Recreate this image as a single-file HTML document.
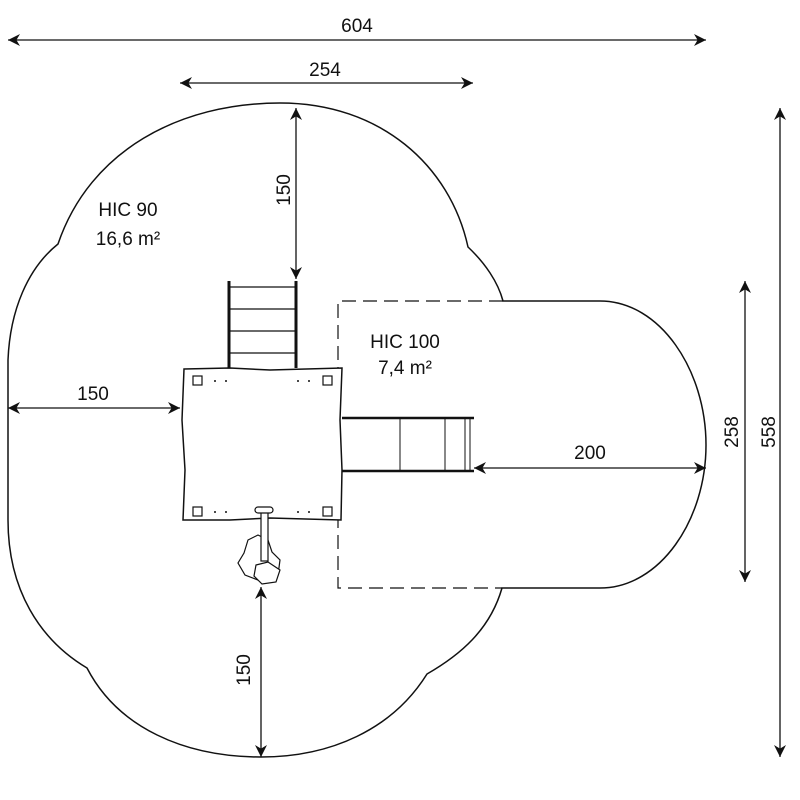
<!DOCTYPE html>
<html><head><style>body{margin:0;background:#fff}svg{display:block}text{font-family:"Liberation Sans",sans-serif;font-size:19px;fill:#111}</style></head>
<body>
<svg width="800" height="800" viewBox="0 0 800 800" xmlns="http://www.w3.org/2000/svg">
<defs>
<marker id="a" viewBox="0 0 10 10" refX="10" refY="5" markerWidth="12" markerHeight="12" markerUnits="userSpaceOnUse" orient="auto-start-reverse"><path d="M0,0 L10,5 L0,10 L3,5 Z" fill="#111"/></marker>
</defs>
<g fill="none" stroke="#111" stroke-width="1.5">
<path d="M58,244 C90,150 180,103 280,103 C380,103 450,165 468,247 C485,263 498,282 503,301 L600,301 C660,301 706,370 706,445 C706,520 660,588 600,588 L502,588 C490,630 460,655 427,674 C392,730 330,757 261,757 C185,757 118,728 87,668 C40,640 8,590 8,520 L8,360 C10,310 28,268 58,244 Z"/>
<path d="M503,301 L338,301 L338,588 L502,588" stroke-dasharray="14,7" stroke-width="1.2"/>
</g>
<g stroke="#111" fill="none">
<line x1="229" y1="281" x2="229" y2="368" stroke-width="3"/>
<line x1="296" y1="281" x2="296" y2="368" stroke-width="3"/>
<g stroke-width="1.3"><line x1="229" y1="287" x2="296" y2="287"/><line x1="229" y1="309" x2="296" y2="309"/><line x1="229" y1="331" x2="296" y2="331"/><line x1="229" y1="353" x2="296" y2="353"/></g>
<path d="M184,369 L230,368 L270,370 L342,368 L340,420 L342,470 L341,520 L270,518 L230,520 L183,520 L185,470 L182,420 Z" fill="#fff" stroke-width="1.5"/>
<g stroke-width="1.2"><rect x="193" y="376" width="9" height="9"/><rect x="323" y="376" width="9" height="9"/><rect x="193" y="507" width="9" height="9"/><rect x="323" y="507" width="9" height="9"/></g>
<line x1="342" y1="418" x2="474" y2="418" stroke-width="2.5"/>
<line x1="342" y1="471" x2="474" y2="471" stroke-width="2.5"/>
<g stroke-width="1"><line x1="400" y1="418" x2="400" y2="471"/><line x1="445" y1="418" x2="445" y2="471"/><line x1="465" y1="418" x2="465" y2="471"/><line x1="470" y1="418" x2="470" y2="471"/></g>
<path d="M248,540 L258,535 L268,540 L272,552 L280,560 L278,575 L268,583 L258,580 L245,575 L238,563 L244,553 Z" fill="#fff" stroke-width="1.2"/>
<path d="M256,565 L268,562 L280,570 L276,582 L262,584 L254,576 Z" fill="#fff" stroke-width="1.2"/>
<rect x="261" y="509" width="7" height="52" fill="#fff" stroke-width="1.2"/>
<rect x="255" y="507" width="18" height="6" rx="3" fill="#fff" stroke-width="1.2"/>
</g>
<g fill="#111"><circle cx="215" cy="381" r="1"/><circle cx="226" cy="381" r="1"/><circle cx="298" cy="381" r="1"/><circle cx="309" cy="381" r="1"/><circle cx="215" cy="512" r="1"/><circle cx="226" cy="512" r="1"/><circle cx="298" cy="512" r="1"/><circle cx="309" cy="512" r="1"/></g>
<g stroke="#111" stroke-width="1.3" marker-start="url(#a)" marker-end="url(#a)">
<line x1="8" y1="40" x2="706" y2="40"/>
<line x1="180" y1="83" x2="473" y2="83"/>
<line x1="296" y1="108" x2="296" y2="279"/>
<line x1="8" y1="408" x2="180" y2="408"/>
<line x1="474" y1="468" x2="706" y2="468"/>
<line x1="745" y1="281" x2="745" y2="582"/>
<line x1="780" y1="108" x2="780" y2="757"/>
<line x1="261" y1="587" x2="261" y2="757"/>
</g>
<text x="357" y="32" text-anchor="middle">604</text>
<text x="325" y="76" text-anchor="middle">254</text>
<text x="93" y="400" text-anchor="middle">150</text>
<text x="590" y="459" text-anchor="middle">200</text>
<text transform="translate(290,190) rotate(-90)" text-anchor="middle">150</text>
<text transform="translate(738,432) rotate(-90)" text-anchor="middle">258</text>
<text transform="translate(775,432) rotate(-90)" text-anchor="middle">558</text>
<text transform="translate(250,670) rotate(-90)" text-anchor="middle">150</text>
<text x="128" y="216" text-anchor="middle">HIC 90</text>
<text x="128" y="245" text-anchor="middle">16,6 m²</text>
<text x="405" y="348" text-anchor="middle">HIC 100</text>
<text x="405" y="374" text-anchor="middle">7,4 m²</text>
</svg>
</body></html>
